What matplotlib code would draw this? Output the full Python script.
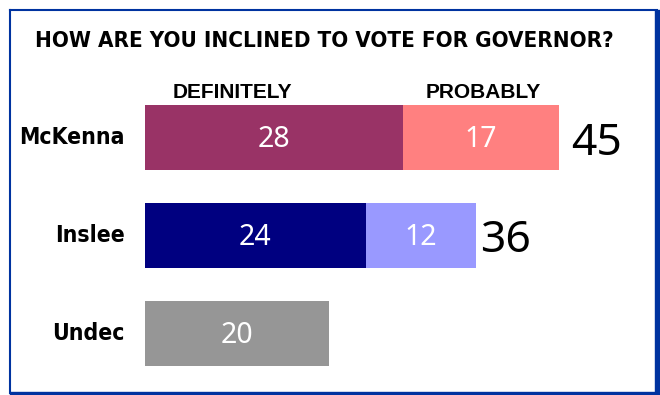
import matplotlib
matplotlib.use("Agg")
import matplotlib.pyplot as plt
from matplotlib.patches import Rectangle
from matplotlib.lines import Line2D

categories = ["McKenna", "Inslee", "Undec"]
definitely = [28, 24, 20]
probably = [17, 12, 0]
totals = [45, 36, None]
def_colors = ["#993366", "#000080", "#969696"]
prob_colors = ["#FF8080", "#9999FF", "#FFFFFF"]
title = "HOW ARE YOU INCLINED TO VOTE FOR GOVERNOR?"
header_def = "DEFINITELY"
header_prob = "PROBABLY"

W, H = 660, 395
fig = plt.figure(figsize=(W / 100, H / 100), dpi=100)
fig.patch.set_facecolor("white")

def fx(px):
    return px / W

def fy(py):
    return 1 - py / H

# border
blue = "#0033A0"
fig.add_artist(Line2D([fx(10), fx(10)], [fy(10), fy(393)], color=blue, lw=1.5, transform=fig.transFigure))
fig.add_artist(Line2D([fx(10), fx(657)], [fy(10), fy(10)], color=blue, lw=1.5, transform=fig.transFigure))
fig.add_artist(Rectangle((fx(655), fy(395)), fx(5), fy(10) - fy(395), color=blue, transform=fig.transFigure))
fig.add_artist(Rectangle((fx(10), fy(395)), fx(650), fy(392) - fy(395), color=blue, transform=fig.transFigure))

X = 50
ax = fig.add_axes([fx(145), fy(382.5), 9.2 * X / W, (382.5 - 88.5) / H])
ax.set_xlim(0, X)
ax.set_ylim(2.5, -0.5)
ax.axis("off")

ypos = list(range(len(categories)))
bh = 65 / 98
ax.barh(ypos, definitely, height=bh, color=def_colors, edgecolor="none")
ax.barh(ypos, probably, left=definitely, height=bh,
        color=prob_colors, edgecolor="none")

total_pad_px = [12, 4, 0]
total_dy_px = [-6, -5, 0]
val_font = dict(family=["Noto Sans", "DejaVu Sans"], fontsize=20.5,
                fontweight="light", color="white")
for i, (d, p) in enumerate(zip(definitely, probably)):
    ax.annotate(str(d), xy=(d / 2, i), xytext=(0, -2 * 0.72),
                textcoords="offset points", ha="center", va="center", **val_font)
    if p:
        ax.annotate(str(p), xy=(d + p / 2, i), xytext=(0, -2 * 0.72),
                    textcoords="offset points", ha="center", va="center", **val_font)
    if totals[i] is not None:
        ax.annotate(str(totals[i]), xy=(d + p, i), xycoords="data",
                    xytext=(total_pad_px[i] * 0.72, total_dy_px[i] * 0.72),
                    textcoords="offset points",
                    ha="left", va="center",
                    family=["Noto Sans", "DejaVu Sans"], fontsize=32,
                    fontweight="light", color="black")

for i, c in enumerate(categories):
    ax.annotate(c, xy=(0, i), xycoords=("axes fraction", "data"),
                xytext=(-20 * 0.72, 0), textcoords="offset points",
                ha="right", va="center", fontsize=16.5, fontweight="bold",
                fontstretch="condensed",
                family=["DejaVu Sans"], color="black")

fig.text(fx(324), fy(41), title, ha="center", va="center", fontsize=16,
         fontweight="bold", fontstretch="condensed",
         family=["DejaVu Sans"], color="black")
fig.text(fx(232.5), fy(93), header_def, ha="center", va="center", fontsize=15,
         fontweight="bold", family=["Liberation Sans", "DejaVu Sans"], color="black")
fig.text(fx(483.5), fy(93), header_prob, ha="center", va="center", fontsize=15,
         fontweight="bold", family=["Liberation Sans", "DejaVu Sans"], color="black")

fig.savefig("out.png", dpi=100, facecolor="white")
